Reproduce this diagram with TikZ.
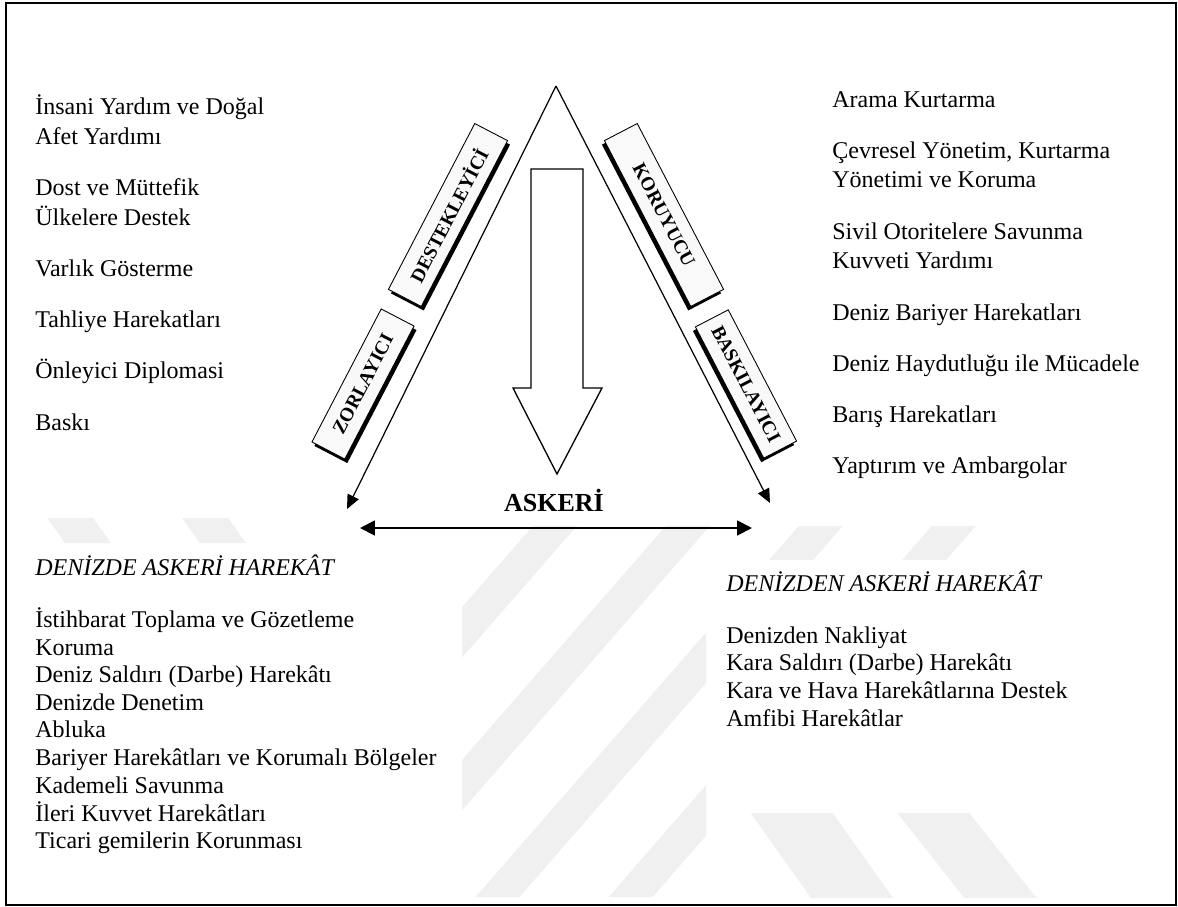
\documentclass[tikz,border=0pt]{standalone}
\usepackage{fontspec}
\setmainfont{Liberation Serif}
\usepackage{tikz}
\usetikzlibrary{arrows.meta}

\tikzset{
    listitem/.style={anchor=base west, inner sep=0pt, font=\fontsize{13.66}{16}\selectfont},
    listhead/.style={listitem, font=\fontsize{13.66}{16}\selectfont\itshape},
    tagbox/.style={draw=black, line width=0.5pt, fill=gray!5, inner sep=0pt, minimum height=0.74cm, font=\fontsize{11}{13}\selectfont\bfseries},
    tagleft/.style={tagbox, rotate=62.5, preaction={draw=none, fill=black, transform canvas={shift={(0.05cm,-0.08cm)}}}},
    tagright/.style={tagbox, rotate=-62.5, preaction={draw=none, fill=black, transform canvas={shift={(-0.05cm,-0.08cm)}}}},
    side/.style={line width=0.7pt, -{Triangle[length=8pt,width=7pt]}},
    wmark/.style={fill=black!6}
}

\begin{document}
\begin{tikzpicture}[x=0.02cm, y=-0.02cm]
    \useasboundingbox (0,0) rectangle (1178,907);

    % Filigran
    \begin{scope}
        \clip (462,526) rectangle (706,897) (706,526) rectangle (1000,560);
        \fill[wmark] (538,520) -- (582,520) -- (251,900) -- (207,900) -- cycle;
        \fill[wmark] (671,520) -- (715,520) -- (384,900) -- (340,900) -- cycle;
        \fill[wmark] (804,520) -- (848,520) -- (517,900) -- (473,900) -- cycle;
        \fill[wmark] (937,520) -- (981,520) -- (650,900) -- (606,900) -- cycle;
    \end{scope}
    \begin{scope}
        \clip (40,518) rectangle (462,543);
        \fill[wmark] (47,518) -- (93,518) -- (111,543) -- (65,543) -- cycle;
        \fill[wmark] (182,518) -- (228,518) -- (246,543) -- (200,543) -- cycle;
    \end{scope}
    \begin{scope}
        \clip (706,813) rectangle (1174,897);
        \fill[wmark] (745,805) -- (827,805) -- (898,905) -- (816,905) -- cycle;
        \fill[wmark] (891,805) -- (963,805) -- (1042,905) -- (970,905) -- cycle;
    \end{scope}

    % Cerceve
    \draw[line width=1.1pt] (6,3) rectangle (1176,905);

    % Ucgen
    \coordinate (apex) at (556,86);
    \coordinate (lefttip) at (347,509);
    \coordinate (righttip) at (770,503);
    \draw[side] (apex) -- (lefttip);
    \draw[side] (apex) -- (righttip);

    % Buyuk ok
    \draw[line width=0.75pt] (531,169) -- (583,169) -- (583,388) -- (602,388) -- (557,474) -- (513,388) -- (531,388) -- cycle;

    % Etiketler
    \node[tagleft, minimum width=3.74cm] (destek) at (448,215) {DESTEKLEYİCİ};
    \node[tagleft, minimum width=3cm] (zorla) at (363,384) {ZORLAYICI};
    \node[tagright, minimum width=3.74cm] (koru) at (664,215) {KORUYUCU};
    \node[tagright, minimum width=2.96cm] (baski) at (746,384) {BASKILAYICI};

    % Askeri
    \node[anchor=base, inner sep=0pt, font=\fontsize{14.8}{17}\selectfont\bfseries] (askeri) at (554,511) {ASKERİ};
    \coordinate (mleft) at (360,528);
    \coordinate (mright) at (752,528);
    \draw[line width=1.1pt, {Triangle[length=8.5pt,width=8.5pt]}-{Triangle[length=8.5pt,width=8.5pt]}] (mleft) -- (mright);

    % Sol liste
    \node[listitem] (insani) at (35,114) {İnsani Yardım ve Doğal};
    \node[listitem] (afet) at (35,144) {Afet Yardımı};
    \node[listitem] (dost) at (35,195) {Dost ve Müttefik};
    \node[listitem] (ulkeler) at (35,225) {Ülkelere Destek};
    \node[listitem] (varlik) at (35,276) {Varlık Gösterme};
    \node[listitem] (tahliye) at (35,327) {Tahliye Harekatları};
    \node[listitem] (onleyici) at (35,378) {Önleyici Diplomasi};
    \node[listitem] (baskiitem) at (35,430) {Baskı};

    % Sag liste
    \node[listitem] (arama) at (832,107) {Arama Kurtarma};
    \node[listitem] (cevre) at (832,158) {Çevresel Yönetim, Kurtarma};
    \node[listitem] (yonetim) at (832,187) {Yönetimi ve Koruma};
    \node[listitem] (sivil) at (832,239) {Sivil Otoritelere Savunma};
    \node[listitem] (kuvvet) at (832,268) {Kuvveti Yardımı};
    \node[listitem] (bariyer) at (832,320) {Deniz Bariyer Harekatları};
    \node[listitem] (haydut) at (832,371) {Deniz Haydutluğu ile Mücadele};
    \node[listitem] (baris) at (832,422) {Barış Harekatları};
    \node[listitem] (yaptirim) at (832,473) {Yaptırım ve Ambargolar};

    % Denizde askeri harekat
    \node[listhead] (denizde) at (35,575) {DENİZDE ASKERİ HAREKÂT};
    \node[listitem] (istihbarat) at (35,627) {İstihbarat Toplama ve Gözetleme};
    \node[listitem] (koruma) at (35,655) {Koruma};
    \node[listitem] (saldiri) at (35,682) {Deniz Saldırı (Darbe) Harekâtı};
    \node[listitem] (denetim) at (35,710) {Denizde Denetim};
    \node[listitem] (abluka) at (35,737) {Abluka};
    \node[listitem] (bolgeler) at (35,765) {Bariyer Harekâtları ve Korumalı Bölgeler};
    \node[listitem] (kademeli) at (35,793) {Kademeli Savunma};
    \node[listitem] (ileri) at (35,821) {İleri Kuvvet Harekâtları};
    \node[listitem] (ticari) at (35,848) {Ticari gemilerin Korunması};

    % Denizden askeri harekat
    \node[listhead] (denizden) at (726,591) {DENİZDEN ASKERİ HAREKÂT};
    \node[listitem] (nakliyat) at (726,643) {Denizden Nakliyat};
    \node[listitem] (karasaldiri) at (726,670) {Kara Saldırı (Darbe) Harekâtı};
    \node[listitem] (karahava) at (726,698) {Kara ve Hava Harekâtlarına Destek};
    \node[listitem] (amfibi) at (726,726) {Amfibi Harekâtlar};
\end{tikzpicture}
\end{document}
